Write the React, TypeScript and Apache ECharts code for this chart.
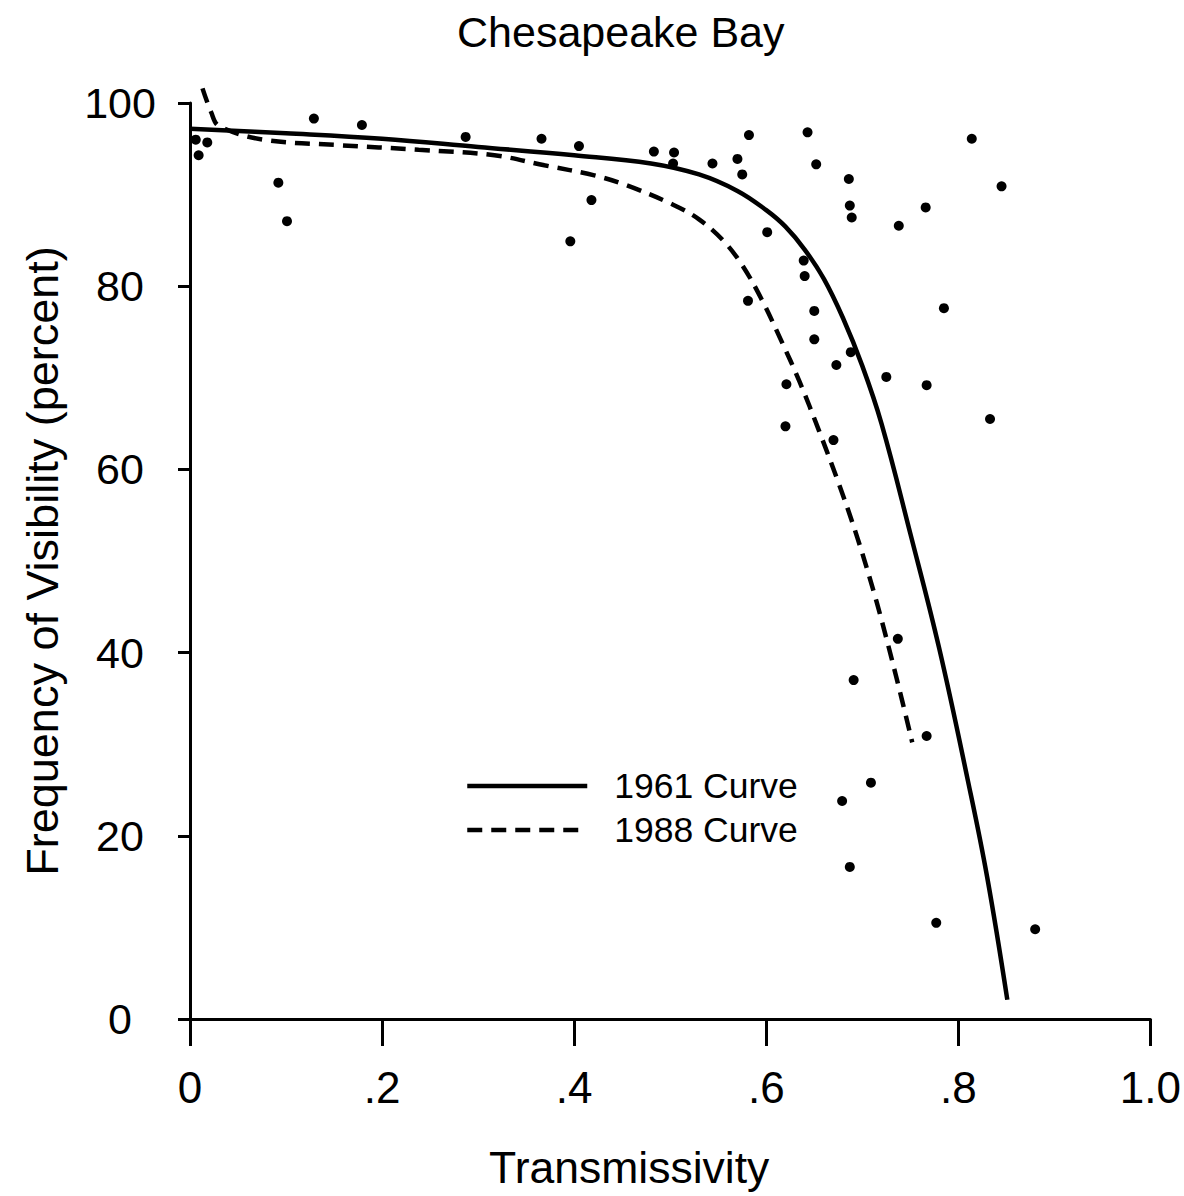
import React, { useEffect, useRef } from "react";
import * as echarts from "echarts";

const titleText = "Chesapeake Bay";
const xAxisName = "Transmissivity";
const yAxisName = "Frequency of Visibility (percent)";
const seriesNames = ["1961 Curve", "1988 Curve"];

const curve1961X = [0, 0.1, 0.2, 0.3, 0.4, 0.48, 0.53, 0.57, 0.6, 0.62, 0.64, 0.66, 0.68, 0.70, 0.72, 0.75, 0.78, 0.81, 0.83, 0.851];
const curve1961Y = [97.2, 96.7, 96.1, 95.2, 94.3, 93.4, 92.2, 90.4, 88.3, 86.5, 84.0, 80.8, 76.5, 71.3, 65.0, 53.0, 40.5, 26.0, 15.5, 2.1];

const curve1988X = [0.013, 0.022, 0.03, 0.076, 0.155, 0.238, 0.317, 0.369, 0.421, 0.455, 0.503, 0.53, 0.555, 0.575, 0.595, 0.615, 0.635, 0.655, 0.675, 0.695, 0.715, 0.735, 0.752];
const curve1988Y = [101.6, 99.0, 97.5, 96.0, 95.4, 94.9, 94.3, 93.2, 92.1, 91.0, 88.9, 87.3, 85.0, 82.3, 78.6, 74.2, 69.5, 64.2, 58.6, 52.5, 45.5, 37.5, 30.2];

const obsX = [0.006, 0.018, 0.009, 0.092, 0.101, 0.129, 0.179, 0.287, 0.366, 0.396, 0.405, 0.418, 0.483, 0.504, 0.503, 0.544, 0.57, 0.575, 0.582, 0.581, 0.601, 0.62, 0.621, 0.639, 0.64, 0.643, 0.652, 0.65, 0.65, 0.67, 0.673, 0.679, 0.686, 0.687, 0.689, 0.688, 0.687, 0.691, 0.709, 0.725, 0.737, 0.738, 0.766, 0.767, 0.767, 0.777, 0.785, 0.814, 0.833, 0.845, 0.88];
const obsY = [96.0, 95.7, 94.3, 91.3, 87.1, 98.3, 97.6, 96.3, 96.1, 84.9, 95.3, 89.4, 94.7, 94.6, 93.4, 93.4, 93.9, 92.2, 96.5, 78.4, 85.9, 64.7, 69.3, 82.8, 81.1, 96.8, 93.3, 77.3, 74.2, 63.2, 71.4, 23.8, 91.7, 88.8, 87.5, 72.8, 16.6, 37.0, 25.8, 70.1, 41.5, 86.6, 88.6, 69.2, 30.9, 10.5, 77.6, 96.1, 65.5, 90.9, 9.8];

const FONT = "'Liberation Sans', Arial, Helvetica, sans-serif";

export default function App() {
  const ref = useRef<HTMLDivElement>(null);
  useEffect(() => {
    if (!ref.current) return;
    const chart = echarts.init(ref.current, null, { renderer: "svg" });
    const zip = (xs: number[], ys: number[]) => xs.map((x, i) => [x, ys[i]]);
    chart.setOption({
      animation: false,
      backgroundColor: "#ffffff",
      title: {
        text: titleText,
        left: 452,
        top: 5,
        textStyle: { fontFamily: FONT, fontSize: 43, fontWeight: "normal", color: "#000" },
      },
      legend: {
        orient: "vertical",
        left: 460,
        top: 763,
        itemWidth: 120,
        itemHeight: 14,
        itemGap: 8,
        data: seriesNames,
        itemStyle: { color: "transparent", borderWidth: 0, opacity: 0 },
        lineStyle: { width: 4.5 },
        textStyle: { fontFamily: FONT, fontSize: 35.5, color: "#000", padding: [0, 0, 0, 22] },
      },
      grid: { left: 190, right: 27, top: 103, bottom: 177, containLabel: false },
      xAxis: {
        type: "value",
        min: 0,
        max: 1,
        interval: 0.2,
        name: xAxisName,
        nameLocation: "middle",
        nameGap: 126,
        nameTextStyle: { fontFamily: FONT, fontSize: 44.5, color: "#000", padding: [0, 82, 0, 0] },
        axisLine: { show: true, lineStyle: { color: "#000", width: 3 } },
        axisTick: { show: true, inside: false, length: 27, lineStyle: { color: "#000", width: 3 } },
        axisLabel: {
          margin: 46,
          fontFamily: FONT,
          fontSize: 44,
          color: "#000",
          formatter: (v: number) => (v === 0 ? "0" : v >= 1 ? "1.0" : v.toFixed(1).replace(/^0\./, ".")),
        },
        splitLine: { show: false },
      },
      yAxis: {
        type: "value",
        min: 0,
        max: 100,
        interval: 20,
        name: yAxisName,
        nameLocation: "middle",
        nameRotate: 90,
        nameGap: 125,
        nameTextStyle: { fontFamily: FONT, fontSize: 45, color: "#000" },
        axisLine: { show: true, lineStyle: { color: "#000", width: 3 } },
        axisTick: { show: true, inside: false, length: 12, lineStyle: { color: "#000", width: 3 } },
        axisLabel: {
          margin: 70,
          align: "center",
          fontFamily: FONT,
          fontSize: 43,
          color: "#000",
        },
        splitLine: { show: false },
      },
      series: [
        {
          name: seriesNames[0],
          type: "line",
          data: zip(curve1961X, curve1961Y),
          smooth: 0.4,
          symbol: "none",
          clip: false,
          lineStyle: { color: "#000", width: 4.5, type: "solid" },
          itemStyle: { color: "#000" },
        },
        {
          name: seriesNames[1],
          type: "line",
          data: zip(curve1988X, curve1988Y),
          smooth: 0.35,
          symbol: "none",
          clip: false,
          lineStyle: { color: "#000", width: 4.5, type: [15, 9] },
          itemStyle: { color: "#000" },
        },
        {
          name: "Observations",
          type: "scatter",
          data: zip(obsX, obsY),
          symbol: "circle",
          symbolSize: 10,
          itemStyle: { color: "#000", opacity: 1 },
        },
      ],
    });
    return () => chart.dispose();
  }, []);
  return <div ref={ref} style={{ position: "fixed", left: 0, top: 0, width: 1184, height: 1196 }} />;
}
